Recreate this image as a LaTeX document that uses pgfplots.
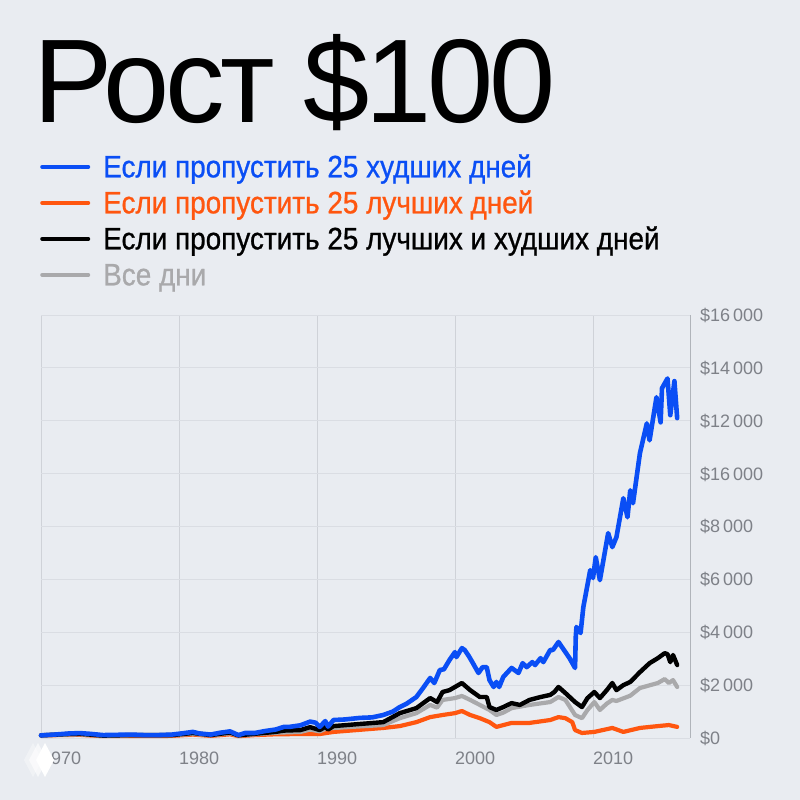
\documentclass[border=0pt]{standalone}
\usepackage{fontspec}
\setmainfont{Liberation Sans}
\newfontfamily\titlefont{Liberation Sans}[LetterSpace=-3.5]
\newfontfamily\legfont{Liberation Sans}[FakeStretch=0.90, FakeBold=0.8]
\usepackage{pgfplots}
\pgfplotsset{compat=1.18}
\definecolor{bg}{HTML}{E9ECF1}
\definecolor{cblue}{HTML}{0A4EF5}
\definecolor{corange}{HTML}{FF560F}
\definecolor{cgrey}{HTML}{A9A9AB}
\definecolor{tickc}{HTML}{7E8188}
\definecolor{gridh}{HTML}{DADDE3}
\definecolor{gridv}{HTML}{CFD2D8}
\definecolor{axisc}{HTML}{B0B4BA}

\pgfplotstableread{
x y
1970.0 100
1971.0 130
1972.0 170
1972.8 185
1973.5 160
1974.5 110
1975.5 120
1976.5 130
1977.5 110
1978.5 110
1979.5 130
1980.3 180
1981.0 230
1981.5 170
1982.3 130
1983.0 200
1983.7 250
1984.3 110
1984.8 190
1985.5 190
1986.2 260
1987.0 320
1987.6 420
1988.0 420
1988.8 480
1989.5 620
1989.9 580
1990.2 420
1990.6 640
1990.8 430
1991.2 680
1992.0 700
1993.1 760
1994.0 780
1994.8 870
1995.5 1000
1996.0 1170
1996.5 1300
1997.2 1550
1997.7 1900
1998.2 2270
1998.5 2080
1998.9 2570
1999.2 2600
1999.6 2950
2000.0 3250
2000.1 3060
2000.5 3400
2000.7 3330
2001.0 3100
2001.3 2830
2001.7 2460
2002.0 2680
2002.3 2680
2002.5 2190
2002.8 1930
2003.0 2120
2003.2 1930
2003.5 2310
2004.1 2650
2004.6 2460
2004.9 2830
2005.2 2680
2005.6 2870
2005.8 2760
2006.2 3020
2006.4 2870
2006.9 3330
2007.1 3330
2007.5 3630
2008.0 3250
2008.3 3020
2008.7 2650
2008.75 3820
2008.8 4200
2009.1 3970
2009.3 4950
2009.8 6350
2010.0 6050
2010.2 6840
2010.5 5970
2011.1 7750
2011.4 7220
2011.7 7600
2012.2 9070
2012.5 8350
2012.7 9370
2012.9 8880
2013.4 10770
2013.9 11900
2014.1 11260
2014.6 12890
2014.9 11940
2015.0 13230
2015.4 13600
2015.6 12210
2015.9 13500
2016.1 12100
}\worst

\pgfplotstableread{
x y
1970.0 100
1972.0 150
1972.8 160
1974.5 90
1976.5 110
1979.5 110
1981.0 190
1982.3 110
1983.7 210
1984.3 100
1985.5 160
1987.0 230
1987.6 280
1988.8 300
1989.5 410
1990.2 300
1990.6 420
1990.8 320
1991.2 450
1993.1 530
1994.8 600
1996.0 940
1997.2 1130
1998.2 1510
1998.7 1360
1999.1 1740
1999.6 1810
2000.0 1930
2000.5 2080
2001.1 1810
2001.8 1550
2002.3 1550
2002.5 1170
2003.0 1060
2003.5 1170
2004.1 1320
2004.7 1250
2005.4 1440
2006.2 1550
2006.9 1630
2007.2 1740
2007.5 1930
2008.0 1700
2008.7 1360
2009.2 1170
2009.6 1510
2010.1 1740
2010.5 1510
2011.0 1810
2011.4 2080
2011.7 1810
2012.2 2000
2012.7 2120
2013.4 2490
2014.1 2830
2014.7 3020
2015.2 3210
2015.4 3170
2015.6 2870
2015.8 3140
2016.1 2760
}\both

\pgfplotstableread{
x y
1970.0 100
1972.8 140
1974.5 80
1976.5 100
1979.5 100
1981.0 160
1982.3 100
1983.7 180
1984.3 90
1985.5 140
1987.0 200
1988.8 230
1989.5 320
1990.2 250
1990.6 340
1991.2 380
1994.8 490
1996.0 750
1997.2 940
1998.2 1250
1998.7 1150
1999.1 1440
2000.0 1510
2000.5 1590
2001.1 1440
2001.8 1250
2002.5 1060
2003.0 870
2003.5 960
2004.1 1130
2005.4 1250
2006.9 1360
2007.5 1550
2008.0 1440
2008.7 870
2009.2 750
2009.6 1060
2010.1 1360
2010.5 1060
2011.0 1300
2011.4 1440
2011.7 1400
2012.7 1600
2013.4 1890
2014.7 2080
2015.2 2230
2015.5 2080
2015.8 2190
2016.1 1930
}\alldays

\pgfplotstableread{
x y
1970.0 100
1972.8 120
1974.5 70
1979.5 80
1981.0 130
1982.3 80
1983.7 140
1984.3 70
1985.5 110
1987.0 140
1988.8 150
1990.2 150
1991.2 230
1994.8 380
1996.0 450
1997.2 600
1998.2 790
1999.1 870
2000.0 940
2000.5 1020
2001.1 870
2001.8 750
2002.5 600
2003.0 420
2004.1 570
2005.4 570
2006.9 680
2007.5 790
2008.0 750
2008.5 600
2008.7 300
2009.2 190
2010.1 230
2011.4 380
2012.2 230
2013.4 380
2014.7 450
2015.5 490
2016.1 420
}\best

\begin{document}
\begin{tikzpicture}[x=1pt,y=1pt]
\useasboundingbox (0,0) rectangle (800,800);
\fill[bg] (0,0) rectangle (800,800);
\node[anchor=base west, inner sep=0pt] at (33,677) {\titlefont\fontsize{119}{119}\selectfont Рост \$100};
\begin{axis}[
  at={(41pt,62pt)}, anchor=south west, scale only axis,
  width=649pt, height=423pt,
  xmin=1970, xmax=2017.03, ymin=0, ymax=16000,
  clip=false, scaled y ticks=false, scaled x ticks=false,
  axis line style={draw=none}, tick style={draw=none},
  xtick={1970,1980,1990,2000,2010},
  xticklabels={1970,1980,1990,2000,2010},
  ytick={0,2000,4000,6000,8000,10000,12000,14000,16000},
  yticklabels={\$0,\$2\,000,\$4\,000,\$6\,000,\$8\,000,\$16\,000,\$12\,000,\$14\,000,\$16\,000},
  yticklabel pos=right,
  xmajorgrids, ymajorgrids,
  x grid style={gridv, line width=0.8pt},
  y grid style={gridh, line width=0.8pt},
  xticklabel style={anchor=base west, inner sep=0pt, yshift=-27pt, font=\fontsize{18}{18}\selectfont, text=tickc},
  yticklabel style={anchor=base west, inner sep=0pt, xshift=10pt, yshift=-6.5pt, font=\fontsize{18}{18}\selectfont, text=tickc},
  legend image code/.code={\draw[#1] (0pt,0pt) -- (46pt,0pt);},
  legend cell align=left,
  legend style={at={(-0.0015,1.385)}, anchor=north west, draw=none, fill=none, inner sep=0pt,
    row sep=7pt, font=\legfont\fontsize{31}{31}\selectfont,
    nodes={inner sep=0pt, text height=25pt, text depth=4pt},
    /tikz/every odd column/.append style={column sep=13pt}},
  every axis plot/.append style={line join=round, line cap=round},
]
\draw[axisc, line width=1pt] (rel axis cs:1,0) -- (rel axis cs:1,1);
\addlegendimage{cblue, line width=4pt}
\addlegendimage{corange, line width=4pt}
\addlegendimage{black, line width=4pt}
\addlegendimage{cgrey, line width=4pt}
\legend{\textcolor{cblue}{Если пропустить 25 худших дней},
        \textcolor{corange}{Если пропустить 25 лучших дней},
        \textcolor{black}{Если пропустить 25 лучших и худших дней},
        \textcolor{cgrey}{Все дни}}
\addplot[corange, line width=4.2pt, forget plot] table {\best};
\addplot[cgrey, line width=4.2pt, forget plot] table {\alldays};
\addplot[black, line width=4.4pt, forget plot] table {\both};
\addplot[cblue, line width=4.6pt, forget plot] table {\worst};
\end{axis}
\begin{scope}[shift={(40,40)}]
\fill[white, opacity=0.35] (-16,0) -- (-7,17) -- (2,0) -- (-7,-17) -- cycle;
\fill[white, opacity=0.6] (-11,0) -- (-2,17) -- (7,0) -- (-2,-17) -- cycle;
\fill[white] (-4,0) -- (5,17) -- (14,0) -- (5,-17) -- cycle;
\end{scope}
\end{tikzpicture}
\end{document}
